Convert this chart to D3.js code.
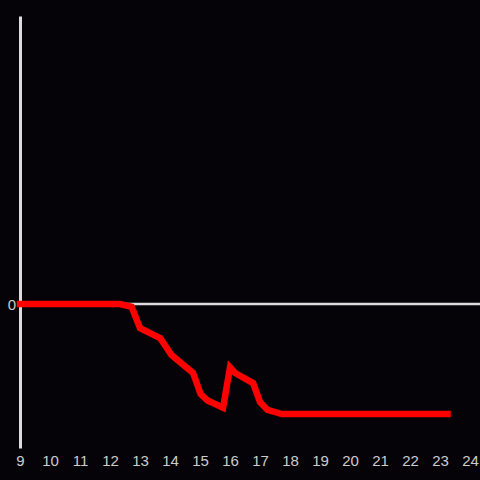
<!DOCTYPE html>
<html>
<head>
<meta charset="utf-8">
<script src="https://cdn.jsdelivr.net/npm/d3@7"></script>
<style>
  html, body { margin: 0; padding: 0; background: #050307; }
  svg { display: block; }
  text { font-family: "Liberation Sans", Arial, sans-serif; }
</style>
</head>
<body>
<svg id="chart" width="480" height="480"></svg>
<script>
// Data
const hours = [9, 12.33, 12.72, 13, 13.67, 14.05, 14.77, 15.02, 15.25, 15.77, 16, 16.17, 16.77, 17, 17.25, 17.73, 23.25];
const values = [0, 0, -0.02, -0.167, -0.236, -0.354, -0.479, -0.625, -0.67, -0.72, -0.44, -0.479, -0.549, -0.68, -0.736, -0.764, -0.764];
const xTicks = [9, 10, 11, 12, 13, 14, 15, 16, 17, 18, 19, 20, 21, 22, 23, 24];
const yTicks = [0];

const svg = d3.select("#chart");
const W = 480, H = 480;
svg.append("rect").attr("width", W).attr("height", H).attr("fill", "#050307");

const x = d3.scaleLinear().domain([9, 24]).range([20, 470]);
const y = d3.scaleLinear().domain([-1, 2]).range([448, 16]);

// Zero line
svg.append("line")
  .attr("x1", x(9)).attr("x2", W)
  .attr("y1", y(0)).attr("y2", y(0))
  .attr("stroke", "#dcdcdc").attr("stroke-width", 2.5);

// Y axis
const yAxis = svg.append("g").attr("transform", `translate(${x(9)},0)`)
  .call(d3.axisLeft(y).tickValues(yTicks).tickSize(0).tickPadding(4).tickFormat(d3.format("d")));
yAxis.select(".domain").attr("stroke", "#dcdcdc").attr("stroke-width", 3);
yAxis.selectAll("text").attr("fill", "#cccccc").attr("font-size", 15).attr("dy", "0.35em")
  .attr("font-family", "'Liberation Sans', Arial, sans-serif");

// X axis labels
const xAxis = svg.append("g").attr("transform", `translate(0,453)`)
  .call(d3.axisBottom(x).tickValues(xTicks).tickSize(0).tickPadding(2).tickFormat(d3.format("d")));
xAxis.select(".domain").remove();
xAxis.selectAll("text").attr("fill", "#cccccc").attr("font-size", 15)
  .attr("font-family", "'Liberation Sans', Arial, sans-serif");

// Red line
const pts = hours.map((h, i) => [h, values[i]]);
const line = d3.line().x(d => x(d[0])).y(d => y(d[1]));
svg.append("path")
  .datum(pts)
  .attr("d", line)
  .attr("fill", "none")
  .attr("stroke", "#ff0000")
  .attr("stroke-width", 6.5)
  .attr("stroke-linecap", "square")
  .attr("stroke-linejoin", "miter");
</script>
</body>
</html>
